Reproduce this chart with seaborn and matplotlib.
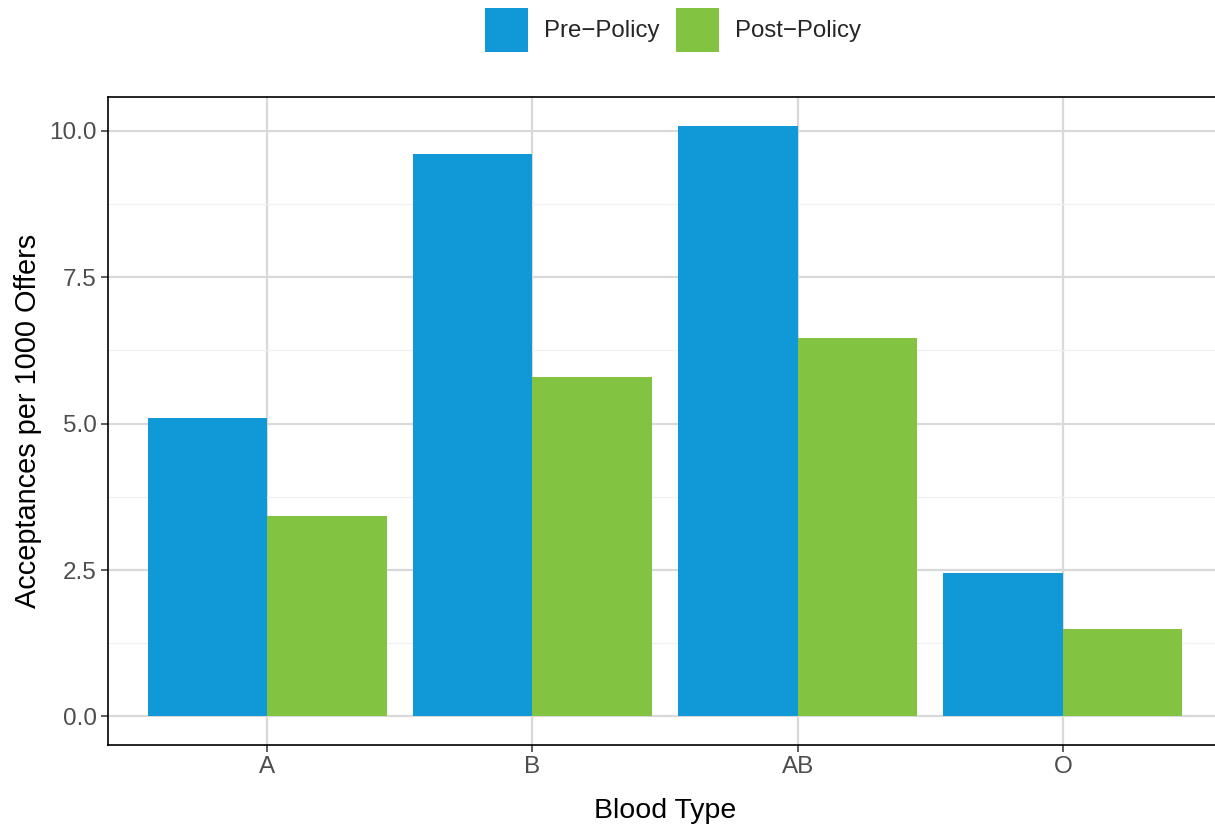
import matplotlib
matplotlib.use("Agg")
import matplotlib.pyplot as plt
import seaborn as sns
import pandas as pd
from matplotlib.patches import Patch
from matplotlib.ticker import MultipleLocator

blood_types = ["A", "B", "AB", "O"]
pre_policy = [5.10, 9.60, 10.08, 2.45]
post_policy = [3.42, 5.80, 6.46, 1.49]
groups = ["Pre\u2212Policy", "Post\u2212Policy"]
colors = ["#1198D6", "#82C341"]

df = pd.DataFrame({
    "Blood Type": blood_types * 2,
    "value": pre_policy + post_policy,
    "group": [groups[0]] * 4 + [groups[1]] * 4,
})

sns.set_style("white")
plt.rcParams["font.family"] = ["Liberation Sans", "DejaVu Sans"]

fig = plt.figure(figsize=(12.15, 8.27), dpi=100)
# panel extends slightly past the right edge of the image, as in the reference
ax = fig.add_axes([108 / 1215, 1 - 745 / 827, (1222 - 108) / 1215, (745 - 97) / 827])

sns.barplot(data=df, x="Blood Type", y="value", hue="group", order=blood_types,
            hue_order=groups, palette=colors, width=0.9, saturation=1,
            dodge=True, ax=ax, legend=False, zorder=3, linewidth=0, edgecolor="none")

ax.set_xlim(-0.6, 3.6)
ax.set_ylim(-0.487, 10.575)
ax.yaxis.set_minor_locator(MultipleLocator(1.25))
ax.set_yticks([0, 2.5, 5, 7.5, 10])
ax.set_yticklabels(["0.0", "2.5", "5.0", "7.5", "10.0"])

ax.grid(True, which="major", color="#D9D9D9", linewidth=1.6, zorder=0)
ax.grid(True, which="minor", axis="y", color="#F0F0F0", linewidth=0.9, zorder=0)
ax.set_axisbelow(True)

for s in ax.spines.values():
    s.set_visible(True)
    s.set_color("black")
    s.set_linewidth(1.2)

ax.tick_params(axis="both", which="major", direction="out", length=5, width=1.1,
               color="#333333", labelcolor="#4D4D4D", labelsize=17.5, pad=3,
               bottom=True, left=True)
ax.tick_params(axis="both", which="minor", length=0)

ax.set_xlabel("Blood Type", fontsize=20.5, color="black", labelpad=14)
ax.set_ylabel("Acceptances per 1000 Offers", fontsize=20.8, color="black", labelpad=5)

handles = [Patch(facecolor=c, edgecolor="none") for c in colors]
fig.legend(handles, groups, loc="center", bbox_to_anchor=(0.554, 1 - 30 / 827), ncol=2,
           frameon=False, fontsize=17.3, handlelength=1.79, handleheight=2.38,
           handletextpad=0.67, columnspacing=0.67, borderaxespad=0.0, borderpad=0.0)

fig.savefig("out.png", dpi=100)
